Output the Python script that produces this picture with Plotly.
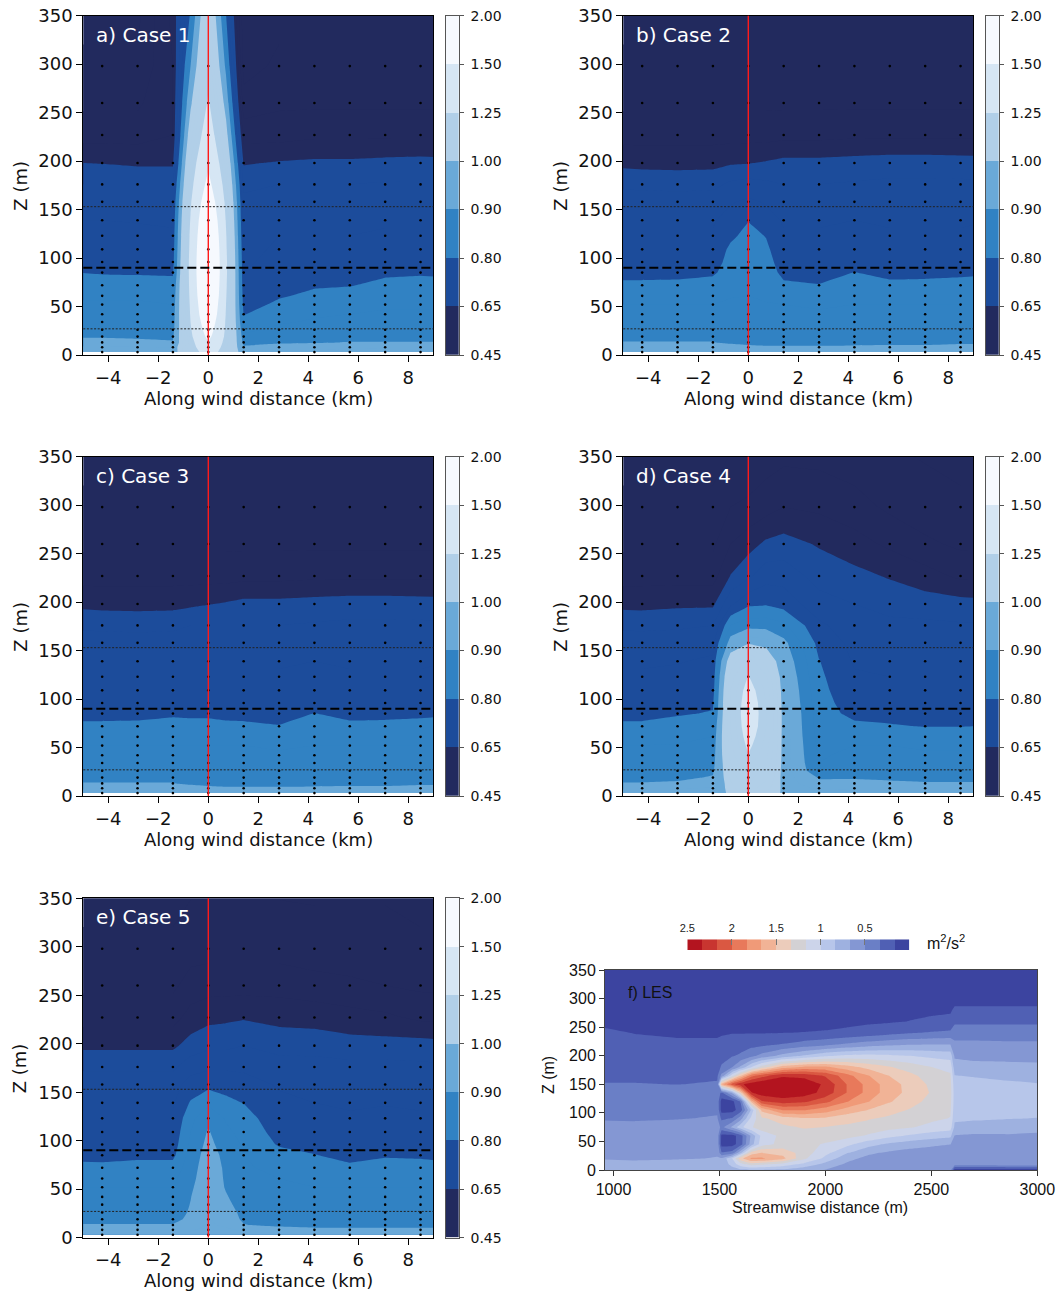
import numpy as np
import plotly.graph_objects as go

# ---------------- data: panels a-e (WRF wind-farm cases) ----------------
LEVELS = [0.45, 0.65, 0.80, 0.90, 1.00, 1.25, 1.50, 2.00]
LEVEL_LABELS = ["0.45", "0.65", "0.80", "0.90", "1.00", "1.25", "1.50", "2.00"]
BAND_COLORS = ["#222a5e", "#1c4c9b", "#3182c3", "#6aa9d8", "#b1cfe8", "#d6e6f4", "#f6f9fe"]

X_KM = [-5.66, -4.245, -2.83, -1.415, -0.71, 0.0, 0.71, 1.415, 2.83, 4.245, 5.66, 7.075, 8.49, 9.905]
Z_M = [3, 8, 13, 19, 26, 34, 42, 52, 61, 72, 85, 96, 109, 123, 139, 158, 176, 198, 227, 260, 298, 365]
GRID_X_KM = [-4.245, -2.83, -1.415, 0.0, 1.415, 2.83, 4.245, 5.66, 7.075, 8.49]
X_TICKS = [-4, -2, 0, 2, 4, 6, 8]
Z_TICKS = [0, 50, 100, 150, 200, 250, 300, 350]

TURBINE_X_KM = 0.0
HUB_HEIGHT_M = 90
ROTOR_DIAMETER_M = 126

# each list = one column (bottom -> top, at Z_M), columns at X_KM
CASE1_COLS = [
    [0.97, 0.955, 0.92, 0.895, 0.88, 0.87, 0.865, 0.855, 0.845, 0.83, 0.802, 0.78, 0.77, 0.76, 0.75, 0.73, 0.70, 0.652, 0.58, 0.54, 0.51, 0.48],
    [0.97, 0.955, 0.92, 0.895, 0.88, 0.87, 0.865, 0.855, 0.845, 0.83, 0.795, 0.78, 0.77, 0.76, 0.75, 0.73, 0.70, 0.648, 0.58, 0.54, 0.51, 0.48],
    [0.968, 0.952, 0.912, 0.893, 0.88, 0.87, 0.865, 0.855, 0.845, 0.828, 0.793, 0.778, 0.768, 0.758, 0.748, 0.73, 0.70, 0.64, 0.58, 0.54, 0.51, 0.48],
    [0.965, 0.95, 0.905, 0.89, 0.875, 0.865, 0.86, 0.85, 0.84, 0.825, 0.79, 0.775, 0.765, 0.755, 0.745, 0.73, 0.70, 0.64, 0.60, 0.60, 0.60, 0.62],
    [1.10, 1.15, 1.18, 1.21, 1.23, 1.25, 1.26, 1.27, 1.28, 1.29, 1.30, 1.30, 1.29, 1.28, 1.26, 1.23, 1.19, 1.15, 1.07, 0.98, 0.90, 0.79],
    [1.40, 1.46, 1.49, 1.56, 1.62, 1.68, 1.75, 1.80, 1.85, 1.88, 1.90, 1.90, 1.88, 1.84, 1.78, 1.68, 1.57, 1.46, 1.36, 1.27, 1.20, 1.12],
    [1.12, 1.16, 1.19, 1.21, 1.22, 1.23, 1.24, 1.25, 1.26, 1.27, 1.28, 1.28, 1.27, 1.26, 1.24, 1.21, 1.17, 1.12, 1.04, 0.96, 0.88, 0.78],
    [0.95, 0.91, 0.88, 0.86, 0.84, 0.815, 0.798, 0.78, 0.77, 0.76, 0.75, 0.745, 0.74, 0.73, 0.72, 0.71, 0.69, 0.645, 0.58, 0.52, 0.48, 0.46],
    [0.96, 0.93, 0.89, 0.87, 0.86, 0.845, 0.83, 0.81, 0.795, 0.78, 0.77, 0.76, 0.755, 0.75, 0.74, 0.725, 0.70, 0.655, 0.58, 0.54, 0.51, 0.48],
    [0.96, 0.935, 0.895, 0.875, 0.865, 0.855, 0.845, 0.83, 0.81, 0.795, 0.78, 0.77, 0.76, 0.75, 0.74, 0.725, 0.70, 0.66, 0.59, 0.54, 0.51, 0.48],
    [0.965, 0.94, 0.902, 0.88, 0.87, 0.86, 0.85, 0.835, 0.82, 0.797, 0.78, 0.77, 0.76, 0.75, 0.74, 0.725, 0.70, 0.66, 0.59, 0.54, 0.51, 0.48],
    [0.965, 0.945, 0.902, 0.882, 0.872, 0.862, 0.855, 0.845, 0.835, 0.815, 0.79, 0.775, 0.765, 0.755, 0.745, 0.73, 0.705, 0.665, 0.59, 0.54, 0.51, 0.48],
    [0.965, 0.945, 0.902, 0.882, 0.872, 0.862, 0.855, 0.845, 0.835, 0.815, 0.795, 0.775, 0.765, 0.755, 0.745, 0.73, 0.705, 0.668, 0.59, 0.54, 0.51, 0.48],
    [0.965, 0.945, 0.902, 0.882, 0.872, 0.862, 0.855, 0.845, 0.835, 0.815, 0.79, 0.775, 0.765, 0.755, 0.745, 0.73, 0.705, 0.665, 0.59, 0.54, 0.51, 0.48],
]

CASE2_COLS = [
    [0.965, 0.945, 0.903, 0.885, 0.875, 0.865, 0.86, 0.85, 0.84, 0.81, 0.785, 0.775, 0.765, 0.755, 0.745, 0.73, 0.69, 0.64, 0.58, 0.54, 0.51, 0.48],
    [0.965, 0.945, 0.903, 0.885, 0.875, 0.865, 0.86, 0.85, 0.84, 0.81, 0.785, 0.775, 0.765, 0.755, 0.745, 0.73, 0.685, 0.635, 0.58, 0.54, 0.51, 0.48],
    [0.965, 0.945, 0.903, 0.885, 0.875, 0.865, 0.86, 0.85, 0.84, 0.812, 0.785, 0.775, 0.765, 0.755, 0.745, 0.73, 0.68, 0.635, 0.58, 0.54, 0.51, 0.48],
    [0.965, 0.945, 0.903, 0.885, 0.875, 0.865, 0.86, 0.85, 0.84, 0.825, 0.79, 0.775, 0.765, 0.755, 0.745, 0.73, 0.685, 0.635, 0.58, 0.54, 0.51, 0.48],
    [0.96, 0.935, 0.885, 0.875, 0.87, 0.865, 0.86, 0.855, 0.848, 0.84, 0.83, 0.82, 0.81, 0.79, 0.77, 0.745, 0.71, 0.645, 0.58, 0.54, 0.51, 0.48],
    [0.955, 0.92, 0.875, 0.87, 0.865, 0.862, 0.86, 0.855, 0.85, 0.845, 0.84, 0.835, 0.825, 0.815, 0.798, 0.76, 0.72, 0.648, 0.58, 0.54, 0.51, 0.48],
    [0.955, 0.91, 0.875, 0.87, 0.865, 0.862, 0.86, 0.852, 0.845, 0.835, 0.83, 0.82, 0.81, 0.798, 0.77, 0.745, 0.71, 0.655, 0.58, 0.54, 0.51, 0.48],
    [0.955, 0.91, 0.875, 0.87, 0.865, 0.862, 0.858, 0.85, 0.84, 0.81, 0.785, 0.775, 0.765, 0.755, 0.745, 0.73, 0.70, 0.665, 0.585, 0.54, 0.51, 0.48],
    [0.955, 0.91, 0.875, 0.87, 0.865, 0.86, 0.855, 0.845, 0.83, 0.802, 0.78, 0.772, 0.765, 0.755, 0.745, 0.73, 0.70, 0.665, 0.585, 0.54, 0.51, 0.48],
    [0.955, 0.915, 0.876, 0.87, 0.865, 0.862, 0.858, 0.85, 0.84, 0.83, 0.801, 0.785, 0.77, 0.76, 0.75, 0.735, 0.705, 0.67, 0.59, 0.54, 0.51, 0.48],
    [0.955, 0.92, 0.875, 0.87, 0.865, 0.862, 0.858, 0.85, 0.84, 0.812, 0.785, 0.775, 0.765, 0.755, 0.745, 0.735, 0.71, 0.675, 0.59, 0.54, 0.51, 0.48],
    [0.955, 0.92, 0.875, 0.87, 0.865, 0.862, 0.858, 0.85, 0.84, 0.815, 0.785, 0.775, 0.765, 0.755, 0.745, 0.735, 0.71, 0.675, 0.59, 0.54, 0.51, 0.48],
    [0.96, 0.93, 0.885, 0.875, 0.87, 0.865, 0.86, 0.85, 0.84, 0.82, 0.788, 0.775, 0.765, 0.755, 0.745, 0.735, 0.71, 0.672, 0.59, 0.54, 0.51, 0.48],
    [0.96, 0.93, 0.885, 0.875, 0.87, 0.865, 0.86, 0.85, 0.84, 0.83, 0.795, 0.78, 0.77, 0.76, 0.75, 0.735, 0.705, 0.67, 0.59, 0.54, 0.51, 0.48],
]

CASE3_COLS = [
    [0.965, 0.945, 0.903, 0.885, 0.875, 0.865, 0.86, 0.85, 0.84, 0.81, 0.785, 0.775, 0.765, 0.755, 0.745, 0.73, 0.69, 0.64, 0.58, 0.54, 0.51, 0.48],
    [0.965, 0.945, 0.903, 0.885, 0.875, 0.865, 0.86, 0.85, 0.84, 0.81, 0.785, 0.775, 0.765, 0.755, 0.745, 0.73, 0.685, 0.635, 0.58, 0.54, 0.51, 0.48],
    [0.965, 0.945, 0.903, 0.885, 0.875, 0.865, 0.86, 0.85, 0.84, 0.812, 0.785, 0.775, 0.765, 0.755, 0.745, 0.73, 0.68, 0.635, 0.58, 0.54, 0.51, 0.48],
    [0.965, 0.945, 0.903, 0.885, 0.875, 0.865, 0.86, 0.85, 0.84, 0.825, 0.79, 0.775, 0.765, 0.755, 0.745, 0.73, 0.685, 0.635, 0.58, 0.54, 0.51, 0.48],
    [0.96, 0.935, 0.885, 0.875, 0.87, 0.865, 0.86, 0.85, 0.84, 0.82, 0.788, 0.775, 0.765, 0.755, 0.745, 0.73, 0.70, 0.64, 0.58, 0.54, 0.51, 0.48],
    [0.955, 0.92, 0.875, 0.87, 0.865, 0.862, 0.858, 0.85, 0.84, 0.82, 0.788, 0.775, 0.765, 0.755, 0.745, 0.73, 0.70, 0.648, 0.58, 0.54, 0.51, 0.48],
    [0.955, 0.91, 0.875, 0.87, 0.865, 0.862, 0.858, 0.85, 0.84, 0.812, 0.785, 0.775, 0.765, 0.755, 0.745, 0.73, 0.70, 0.655, 0.58, 0.54, 0.51, 0.48],
    [0.955, 0.91, 0.875, 0.87, 0.865, 0.862, 0.858, 0.85, 0.84, 0.81, 0.785, 0.775, 0.765, 0.755, 0.745, 0.73, 0.70, 0.665, 0.585, 0.54, 0.51, 0.48],
    [0.955, 0.91, 0.875, 0.87, 0.865, 0.86, 0.855, 0.845, 0.83, 0.802, 0.78, 0.772, 0.765, 0.755, 0.745, 0.73, 0.70, 0.665, 0.585, 0.54, 0.51, 0.48],
    [0.955, 0.915, 0.876, 0.87, 0.865, 0.862, 0.858, 0.85, 0.84, 0.83, 0.801, 0.785, 0.77, 0.76, 0.75, 0.735, 0.705, 0.67, 0.59, 0.54, 0.51, 0.48],
    [0.955, 0.92, 0.875, 0.87, 0.865, 0.862, 0.858, 0.85, 0.84, 0.812, 0.785, 0.775, 0.765, 0.755, 0.745, 0.735, 0.71, 0.675, 0.59, 0.54, 0.51, 0.48],
    [0.955, 0.92, 0.875, 0.87, 0.865, 0.862, 0.858, 0.85, 0.84, 0.815, 0.785, 0.775, 0.765, 0.755, 0.745, 0.735, 0.71, 0.675, 0.59, 0.54, 0.51, 0.48],
    [0.96, 0.93, 0.885, 0.875, 0.87, 0.865, 0.86, 0.85, 0.84, 0.82, 0.788, 0.775, 0.765, 0.755, 0.745, 0.735, 0.71, 0.672, 0.59, 0.54, 0.51, 0.48],
    [0.96, 0.93, 0.885, 0.875, 0.87, 0.865, 0.86, 0.85, 0.84, 0.83, 0.795, 0.78, 0.77, 0.76, 0.75, 0.735, 0.705, 0.67, 0.59, 0.54, 0.51, 0.48],
]

CASE4_COLS = [
    [0.965, 0.945, 0.903, 0.885, 0.875, 0.865, 0.86, 0.85, 0.84, 0.81, 0.785, 0.775, 0.765, 0.755, 0.745, 0.73, 0.69, 0.637, 0.58, 0.54, 0.51, 0.48],
    [0.965, 0.945, 0.903, 0.885, 0.875, 0.865, 0.86, 0.85, 0.84, 0.81, 0.785, 0.775, 0.765, 0.755, 0.745, 0.73, 0.685, 0.635, 0.58, 0.54, 0.51, 0.48],
    [0.965, 0.945, 0.908, 0.888, 0.877, 0.867, 0.862, 0.852, 0.842, 0.828, 0.793, 0.778, 0.768, 0.758, 0.748, 0.733, 0.69, 0.64, 0.58, 0.54, 0.51, 0.48],
    [0.97, 0.955, 0.92, 0.905, 0.89, 0.875, 0.868, 0.86, 0.85, 0.835, 0.805, 0.79, 0.775, 0.765, 0.755, 0.74, 0.70, 0.64, 0.58, 0.54, 0.51, 0.48],
    [1.01, 1.02, 1.04, 1.06, 1.08, 1.10, 1.12, 1.135, 1.145, 1.15, 1.155, 1.155, 1.15, 1.12, 1.06, 0.93, 0.85, 0.74, 0.652, 0.60, 0.55, 0.49],
    [1.08, 1.12, 1.15, 1.17, 1.19, 1.21, 1.245, 1.27, 1.29, 1.31, 1.32, 1.31, 1.29, 1.255, 1.18, 0.99, 0.88, 0.79, 0.69, 0.63, 0.56, 0.50],
    [1.04, 1.07, 1.09, 1.11, 1.13, 1.15, 1.17, 1.18, 1.19, 1.20, 1.20, 1.20, 1.19, 1.16, 1.08, 0.97, 0.88, 0.795, 0.73, 0.66, 0.58, 0.51],
    [0.99, 0.985, 0.98, 0.975, 0.975, 0.975, 0.975, 0.975, 0.975, 0.975, 0.975, 0.97, 0.965, 0.955, 0.94, 0.915, 0.86, 0.78, 0.73, 0.67, 0.60, 0.52],
    [0.965, 0.94, 0.91, 0.896, 0.86, 0.85, 0.845, 0.84, 0.835, 0.83, 0.825, 0.82, 0.815, 0.81, 0.802, 0.785, 0.76, 0.72, 0.68, 0.645, 0.59, 0.52],
    [0.965, 0.945, 0.915, 0.895, 0.875, 0.865, 0.86, 0.85, 0.84, 0.812, 0.785, 0.775, 0.765, 0.755, 0.745, 0.735, 0.72, 0.70, 0.665, 0.62, 0.57, 0.51],
    [0.965, 0.945, 0.91, 0.89, 0.875, 0.865, 0.86, 0.85, 0.84, 0.805, 0.78, 0.77, 0.76, 0.75, 0.74, 0.73, 0.71, 0.685, 0.645, 0.59, 0.54, 0.50],
    [0.965, 0.945, 0.905, 0.885, 0.875, 0.865, 0.855, 0.845, 0.83, 0.798, 0.78, 0.77, 0.76, 0.75, 0.74, 0.73, 0.71, 0.675, 0.62, 0.56, 0.52, 0.49],
    [0.965, 0.945, 0.905, 0.885, 0.875, 0.865, 0.855, 0.845, 0.83, 0.798, 0.78, 0.77, 0.76, 0.75, 0.74, 0.73, 0.705, 0.67, 0.59, 0.54, 0.51, 0.48],
    [0.965, 0.945, 0.905, 0.885, 0.875, 0.865, 0.855, 0.845, 0.835, 0.802, 0.78, 0.77, 0.76, 0.75, 0.74, 0.73, 0.705, 0.665, 0.585, 0.54, 0.51, 0.48],
]

CASE5_COLS = [
    [0.965, 0.945, 0.903, 0.885, 0.875, 0.865, 0.86, 0.85, 0.84, 0.815, 0.785, 0.775, 0.765, 0.755, 0.745, 0.73, 0.69, 0.64, 0.58, 0.54, 0.51, 0.48],
    [0.965, 0.945, 0.903, 0.885, 0.875, 0.865, 0.86, 0.85, 0.84, 0.812, 0.785, 0.775, 0.765, 0.755, 0.745, 0.73, 0.69, 0.64, 0.58, 0.54, 0.51, 0.48],
    [0.965, 0.945, 0.903, 0.885, 0.875, 0.865, 0.86, 0.85, 0.84, 0.82, 0.788, 0.775, 0.765, 0.755, 0.745, 0.73, 0.69, 0.64, 0.58, 0.54, 0.51, 0.48],
    [0.965, 0.945, 0.903, 0.885, 0.875, 0.865, 0.86, 0.85, 0.84, 0.82, 0.788, 0.775, 0.765, 0.755, 0.745, 0.73, 0.69, 0.64, 0.58, 0.54, 0.51, 0.48],
    [0.96, 0.945, 0.925, 0.912, 0.906, 0.902, 0.898, 0.89, 0.882, 0.875, 0.868, 0.86, 0.85, 0.835, 0.805, 0.77, 0.73, 0.67, 0.62, 0.57, 0.53, 0.49],
    [0.97, 0.96, 0.955, 0.952, 0.95, 0.95, 0.95, 0.945, 0.94, 0.935, 0.925, 0.915, 0.905, 0.89, 0.84, 0.785, 0.74, 0.69, 0.635, 0.58, 0.53, 0.49],
    [0.965, 0.955, 0.945, 0.935, 0.925, 0.915, 0.905, 0.895, 0.892, 0.89, 0.885, 0.875, 0.86, 0.845, 0.81, 0.785, 0.74, 0.69, 0.64, 0.58, 0.53, 0.49],
    [0.965, 0.945, 0.903, 0.89, 0.885, 0.875, 0.87, 0.865, 0.86, 0.855, 0.85, 0.845, 0.835, 0.82, 0.799, 0.77, 0.74, 0.70, 0.645, 0.58, 0.53, 0.49],
    [0.96, 0.93, 0.885, 0.875, 0.87, 0.865, 0.86, 0.855, 0.85, 0.84, 0.82, 0.795, 0.78, 0.77, 0.76, 0.745, 0.725, 0.68, 0.635, 0.58, 0.53, 0.49],
    [0.955, 0.92, 0.875, 0.87, 0.865, 0.86, 0.855, 0.85, 0.84, 0.825, 0.802, 0.785, 0.77, 0.76, 0.75, 0.74, 0.72, 0.68, 0.63, 0.57, 0.52, 0.49],
    [0.955, 0.92, 0.875, 0.87, 0.865, 0.86, 0.855, 0.85, 0.84, 0.81, 0.785, 0.775, 0.765, 0.755, 0.745, 0.735, 0.715, 0.67, 0.62, 0.56, 0.52, 0.49],
    [0.955, 0.92, 0.875, 0.87, 0.865, 0.86, 0.855, 0.85, 0.84, 0.828, 0.793, 0.778, 0.768, 0.758, 0.748, 0.735, 0.715, 0.67, 0.61, 0.55, 0.52, 0.49],
    [0.955, 0.92, 0.875, 0.87, 0.865, 0.86, 0.855, 0.85, 0.84, 0.825, 0.79, 0.775, 0.765, 0.755, 0.745, 0.735, 0.71, 0.672, 0.59, 0.54, 0.51, 0.48],
    [0.955, 0.92, 0.875, 0.87, 0.865, 0.86, 0.855, 0.85, 0.84, 0.81, 0.785, 0.775, 0.765, 0.755, 0.745, 0.735, 0.705, 0.665, 0.585, 0.54, 0.51, 0.48],
]

CASE_TITLES = ["a) Case 1", "b) Case 2", "c) Case 3", "d) Case 4", "e) Case 5"]
CASE_DATA = [CASE1_COLS, CASE2_COLS, CASE3_COLS, CASE4_COLS, CASE5_COLS]

# ---------------- data: panel f (LES TKE, m2/s2) ----------------
F_X = [960, 1100, 1300, 1490, 1510, 1560, 1600, 1650, 1700, 1800, 1900, 2000, 2100, 2200, 2300, 2400, 2500, 2590, 2610, 2700, 2850, 3000]
F_Z = [0, 10, 20, 30, 45, 60, 75, 90, 105, 120, 135, 150, 165, 180, 200, 220, 240, 260, 280, 300, 350]
F_COLS = [
    [0.72, 0.70, 0.66, 0.62, 0.60, 0.59, 0.57, 0.48, 0.45, 0.44, 0.42, 0.34, 0.30, 0.28, 0.27, 0.25, 0.20, 0.12, 0.10, 0.09, 0.08],
    [0.72, 0.70, 0.65, 0.61, 0.60, 0.60, 0.57, 0.47, 0.45, 0.43, 0.41, 0.34, 0.30, 0.28, 0.26, 0.23, 0.16, 0.12, 0.10, 0.09, 0.08],
    [0.72, 0.70, 0.66, 0.63, 0.62, 0.61, 0.58, 0.49, 0.46, 0.44, 0.42, 0.33, 0.30, 0.28, 0.26, 0.20, 0.14, 0.11, 0.10, 0.09, 0.08],
    [0.72, 0.70, 0.67, 0.66, 0.64, 0.62, 0.60, 0.52, 0.47, 0.45, 0.43, 0.35, 0.31, 0.28, 0.26, 0.20, 0.14, 0.11, 0.10, 0.09, 0.08],
    [0.70, 0.70, 0.70, 0.35, 0.10, 0.12, 0.45, 0.30, 0.10, 0.10, 0.30, 1.60, 0.55, 0.35, 0.28, 0.21, 0.15, 0.11, 0.10, 0.09, 0.08],
    [0.75, 0.90, 1.00, 0.40, 0.10, 0.10, 0.70, 0.35, 0.10, 0.12, 0.70, 2.10, 1.10, 0.50, 0.32, 0.24, 0.16, 0.11, 0.10, 0.09, 0.08],
    [0.80, 1.10, 1.45, 0.80, 0.25, 0.25, 0.95, 0.60, 0.25, 0.35, 1.40, 2.30, 1.50, 0.70, 0.36, 0.25, 0.16, 0.12, 0.10, 0.09, 0.08],
    [0.82, 1.25, 1.70, 1.40, 0.75, 0.70, 1.15, 1.05, 0.85, 1.55, 2.32, 2.42, 1.95, 1.00, 0.45, 0.28, 0.16, 0.12, 0.10, 0.09, 0.08],
    [0.82, 1.20, 1.70, 1.50, 1.10, 1.05, 1.25, 1.30, 1.55, 2.15, 2.42, 2.48, 2.10, 1.25, 0.55, 0.29, 0.16, 0.12, 0.10, 0.09, 0.08],
    [0.80, 1.10, 1.55, 1.45, 1.22, 1.22, 1.30, 1.42, 1.85, 2.25, 2.46, 2.52, 2.30, 1.60, 0.72, 0.34, 0.165, 0.12, 0.10, 0.09, 0.08],
    [0.72, 0.95, 1.20, 1.25, 1.22, 1.25, 1.35, 1.48, 1.85, 2.20, 2.42, 2.46, 2.28, 1.70, 0.85, 0.40, 0.17, 0.12, 0.10, 0.09, 0.08],
    [0.66, 0.78, 0.95, 1.05, 1.15, 1.25, 1.33, 1.47, 1.75, 2.05, 2.27, 2.30, 2.15, 1.70, 0.97, 0.45, 0.18, 0.12, 0.10, 0.09, 0.08],
    [0.62, 0.64, 0.72, 0.85, 1.05, 1.22, 1.30, 1.40, 1.60, 1.85, 2.00, 2.00, 1.90, 1.58, 1.03, 0.52, 0.20, 0.13, 0.10, 0.09, 0.08],
    [0.60, 0.60, 0.62, 0.70, 0.90, 1.15, 1.26, 1.35, 1.50, 1.68, 1.78, 1.78, 1.68, 1.45, 1.05, 0.58, 0.24, 0.14, 0.11, 0.09, 0.08],
    [0.58, 0.57, 0.58, 0.64, 0.80, 1.05, 1.22, 1.30, 1.40, 1.52, 1.58, 1.58, 1.50, 1.35, 1.03, 0.62, 0.28, 0.15, 0.11, 0.09, 0.08],
    [0.58, 0.56, 0.57, 0.60, 0.74, 0.98, 1.18, 1.25, 1.32, 1.40, 1.45, 1.44, 1.38, 1.26, 1.00, 0.65, 0.32, 0.17, 0.13, 0.10, 0.08],
    [0.58, 0.56, 0.56, 0.58, 0.70, 0.92, 1.12, 1.20, 1.24, 1.28, 1.32, 1.30, 1.25, 1.17, 0.96, 0.66, 0.35, 0.19, 0.14, 0.10, 0.08],
    [0.58, 0.56, 0.56, 0.57, 0.67, 0.88, 1.08, 1.16, 1.19, 1.22, 1.24, 1.22, 1.19, 1.12, 0.93, 0.66, 0.37, 0.20, 0.15, 0.11, 0.08],
    [0.08, 0.58, 0.60, 0.60, 0.62, 0.66, 0.80, 0.86, 0.90, 0.92, 0.92, 0.90, 0.84, 0.74, 0.64, 0.54, 0.42, 0.30, 0.19, 0.12, 0.08],
    [0.08, 0.58, 0.60, 0.60, 0.62, 0.64, 0.78, 0.85, 0.89, 0.94, 0.95, 0.90, 0.82, 0.72, 0.62, 0.54, 0.42, 0.30, 0.19, 0.12, 0.08],
    [0.08, 0.60, 0.62, 0.62, 0.63, 0.65, 0.74, 0.84, 0.89, 0.91, 0.90, 0.86, 0.80, 0.71, 0.62, 0.53, 0.42, 0.30, 0.19, 0.12, 0.08],
    [0.08, 0.60, 0.62, 0.62, 0.62, 0.64, 0.72, 0.83, 0.87, 0.89, 0.88, 0.84, 0.79, 0.70, 0.62, 0.53, 0.42, 0.30, 0.19, 0.12, 0.08],
]
F_STEP = 1.0 / 6.0
F_NBANDS = 15
F_COLORS = ["#3c44a0", "#5060b4", "#6a7fc6", "#8497d3", "#9eb1e0", "#b7c6ea", "#ccd4ea",
            "#d3d1d4", "#ecccbb", "#f1b396", "#f09a78", "#e8795b", "#da5842", "#c83530", "#b3141f"]
F_CB_TICKS = [2.5, 2.0, 1.5, 1.0, 0.5]
F_CB_LABELS = ["2.5", "2", "1.5", "1", "0.5"]
F_X_TICKS = [1000, 1500, 2000, 2500, 3000]
F_Z_TICKS = [0, 50, 100, 150, 200, 250, 300, 350]

# ---------------- layout geometry ----------------
W, H = 1057, 1294
PW, PH = 350.0, 339.3
PANEL_POS = [(83.3, 15.7), (623.3, 15.7), (83.3, 456.7), (623.3, 456.7), (83.3, 898.3)]
CB_OFFSET, CB_W = 362.7, 12.7
F_BOX = (605.0, 970.0, 1037.3, 1170.0)     # left, top, right, bottom (px)
F_CB_BOX = (687.3, 939.3, 909.3, 950.0)

DJ = "DejaVu Sans"
LS = "Liberation Sans"
TXT = "#111111"


def axn(kind, n):
    return f"{kind}axis" + ("" if n == 1 else str(n))


def rf(kind, n):
    return kind + ("" if n == 1 else str(n))


def px2paper(xp, yp):
    return xp / W, 1 - yp / H


fig = go.Figure()
layout = dict(width=W, height=H, margin=dict(l=0, r=0, t=0, b=0, autoexpand=False),
              paper_bgcolor="white", plot_bgcolor="white", showlegend=False)
annotations = []
shapes = []

# discrete colorscale for contour fill in value space (contour levels every 0.05)
C_START, C_END, C_SIZE = 0.50, 1.95, 0.05
lo, hi = C_START - C_SIZE / 2, C_END + C_SIZE / 2
cs_ae = []
for k, col in enumerate(BAND_COLORS):
    a = 0.0 if k == 0 else (LEVELS[k] - C_SIZE / 4 - lo) / (hi - lo)
    b = 1.0 if k == len(BAND_COLORS) - 1 else (LEVELS[k + 1] - C_SIZE / 4 - lo) / (hi - lo)
    cs_ae += [[a, col], [b, col]]

tickfont = dict(family=DJ, size=18, color=TXT)
dot_x, dot_z = np.meshgrid(GRID_X_KM, Z_M)
rotor_lo = HUB_HEIGHT_M - ROTOR_DIAMETER_M / 2
rotor_hi = HUB_HEIGHT_M + ROTOR_DIAMETER_M / 2

for i, cols in enumerate(CASE_DATA):
    n = i + 1
    m = i + 7
    left, top = PANEL_POS[i]
    xd = [left / W, (left + PW) / W]
    yd = [1 - (top + PH) / H, 1 - top / H]
    layout[axn("x", n)] = dict(domain=xd, anchor=rf("y", n), range=[-5, 9], tickvals=X_TICKS,
                               ticks="outside", ticklen=6, tickwidth=1, tickcolor="black",
                               showline=True, linecolor="black", linewidth=1, mirror=True,
                               showgrid=False, zeroline=False, tickfont=tickfont, automargin=False)
    layout[axn("y", n)] = dict(domain=yd, anchor=rf("x", n), range=[0, 350], tickvals=Z_TICKS,
                               ticks="outside", ticklen=6, tickwidth=1, tickcolor="black",
                               showline=True, linecolor="black", linewidth=1, mirror=True,
                               showgrid=False, zeroline=False, tickfont=tickfont, automargin=False)
    z = np.array(cols).T
    fig.add_trace(go.Contour(x=X_KM, y=Z_M, z=z, xaxis=rf("x", n), yaxis=rf("y", n),
                             contours=dict(start=C_START, end=C_END, size=C_SIZE,
                                           coloring="fill", showlines=False),
                             colorscale=cs_ae, showscale=False,
                             line=dict(width=0, smoothing=0), hoverinfo="skip"))
    fig.add_trace(go.Scatter(x=dot_x.ravel(), y=dot_z.ravel(), mode="markers",
                             xaxis=rf("x", n), yaxis=rf("y", n),
                             marker=dict(size=2.6, color="black"), hoverinfo="skip"))
    # reference lines: turbine position, hub height, rotor extent
    shapes.append(dict(type="line", xref=rf("x", n), yref=rf("y", n) + " domain",
                       x0=TURBINE_X_KM, x1=TURBINE_X_KM, y0=0, y1=1,
                       line=dict(color="#ff1a1a", width=1.4), layer="above"))
    shapes.append(dict(type="line", xref=rf("x", n) + " domain", yref=rf("y", n),
                       x0=0, x1=1, y0=HUB_HEIGHT_M, y1=HUB_HEIGHT_M,
                       line=dict(color="black", width=2, dash="9px,4px"), layer="above"))
    for hz in (rotor_lo, rotor_hi):
        shapes.append(dict(type="line", xref=rf("x", n) + " domain", yref=rf("y", n),
                           x0=0, x1=1, y0=hz, y1=hz,
                           line=dict(color="#222222", width=1, dash="2px,1.6px"), layer="above"))

    # colorbar as a small heatmap axis
    cl = left + CB_OFFSET
    layout[axn("x", m)] = dict(domain=[cl / W, (cl + CB_W) / W], anchor=rf("y", m), range=[0, 1],
                               showticklabels=False, ticks="", showline=True, mirror=True,
                               linecolor="#555555", linewidth=1, showgrid=False, zeroline=False,
                               automargin=False)
    layout[axn("y", m)] = dict(domain=yd, anchor=rf("x", m), side="right", range=[0, len(BAND_COLORS)],
                               tickvals=list(range(len(LEVELS))), ticktext=LEVEL_LABELS,
                               ticks="outside", ticklen=4, tickcolor="#555555",
                               showline=True, mirror=True, linecolor="#555555", linewidth=1,
                               showgrid=False, zeroline=False, automargin=False,
                               ticklabelstandoff=4,
                               tickfont=dict(family=DJ, size=14, color=TXT))
    nb = len(BAND_COLORS)
    fig.add_trace(go.Heatmap(z=[[k] for k in range(nb)], x=[0, 1], y=list(range(nb + 1)),
                             xaxis=rf("x", m), yaxis=rf("y", m),
                             colorscale=[[k / (nb - 1), c] for k, c in enumerate(BAND_COLORS)],
                             zmin=0, zmax=nb - 1, showscale=False, hoverinfo="skip"))

    # texts
    px, py = px2paper(left + 11, top + 19)
    annotations.append(dict(x=px, y=py, xref="paper", yref="paper", text=CASE_TITLES[i],
                            showarrow=False, xanchor="left", yanchor="middle",
                            font=dict(family=DJ, size=20, color="white")))
    px, py = px2paper(left + PW / 2, top + PH + 43)
    annotations.append(dict(x=px, y=py, xref="paper", yref="paper", text="Along wind distance (km)",
                            showarrow=False, xanchor="center", yanchor="middle",
                            font=dict(family=DJ, size=18, color=TXT)))
    px, py = px2paper(left - 63, top + PH / 2)
    annotations.append(dict(x=px, y=py, xref="paper", yref="paper", text="Z (m)", textangle=-90,
                            showarrow=False, xanchor="center", yanchor="middle",
                            font=dict(family=DJ, size=18, color=TXT)))

# ---------------- panel f ----------------
fl, ft, fr, fb = F_BOX
layout["xaxis6"] = dict(domain=[fl / W, fr / W], anchor="y6", range=[960, 3000], tickvals=F_X_TICKS,
                        ticks="outside", ticklen=5, tickcolor="#333333", showline=True,
                        linecolor="#444444", linewidth=1, mirror=True, showgrid=False, zeroline=False,
                        automargin=False, tickfont=dict(family=LS, size=16, color=TXT))
layout["yaxis6"] = dict(domain=[1 - fb / H, 1 - ft / H], anchor="x6", range=[0, 350], tickvals=F_Z_TICKS,
                        ticks="outside", ticklen=5, tickcolor="#333333", showline=True,
                        linecolor="#444444", linewidth=1, mirror=True, showgrid=False, zeroline=False,
                        automargin=False, tickfont=dict(family=LS, size=16, color=TXT))
fig.add_trace(go.Contour(x=F_X, y=F_Z, z=np.array(F_COLS).T, xaxis="x6", yaxis="y6",
                         contours=dict(start=F_STEP, end=(F_NBANDS - 1) * F_STEP, size=F_STEP,
                                       coloring="fill", showlines=False),
                         colorscale=[[k / (F_NBANDS - 1), c] for k, c in enumerate(F_COLORS)],
                         showscale=False, line=dict(width=0, smoothing=0), hoverinfo="skip"))

cbl, cbt, cbr, cbb = F_CB_BOX
layout["xaxis12"] = dict(domain=[cbl / W, cbr / W], anchor="y12", range=[F_NBANDS * F_STEP, 0],
                         side="top", tickvals=F_CB_TICKS, ticktext=F_CB_LABELS, ticks="inside",
                         ticklen=6, tickcolor="#777777", showline=False, showgrid=False, zeroline=False,
                         automargin=False, ticklabelstandoff=4,
                         tickfont=dict(family=LS, size=11, color="#222222"))
layout["yaxis12"] = dict(domain=[1 - cbb / H, 1 - cbt / H], anchor="x12", range=[0, 1],
                         showticklabels=False, ticks="", showline=False, showgrid=False,
                         zeroline=False, automargin=False)
fig.add_trace(go.Heatmap(z=[list(range(F_NBANDS))], x=[k * F_STEP for k in range(F_NBANDS + 1)], y=[0, 1],
                         xaxis="x12", yaxis="y12",
                         colorscale=[[k / (F_NBANDS - 1), c] for k, c in enumerate(F_COLORS)],
                         zmin=0, zmax=F_NBANDS - 1, showscale=False, hoverinfo="skip"))

for (xp, yp, txt, anchor, angle, size) in [
    (625.7, 992.7, "f) LES", "left", 0, 16),
    ((fl + fr) / 2 - 1, 1207, "Streamwise distance (m)", "center", 0, 16),
    (548, 1075, "Z (m)", "center", -90, 16),
    (925, 942, "m<sup>2</sup>/s<sup>2</sup>", "left", 0, 16),
]:
    px, py = px2paper(xp, yp)
    annotations.append(dict(x=px, y=py, xref="paper", yref="paper", text=txt, textangle=angle,
                            showarrow=False, xanchor=anchor, yanchor="middle",
                            font=dict(family=LS, size=size, color=TXT)))

layout["annotations"] = annotations
layout["shapes"] = shapes
fig.update_layout(**layout)
fig.write_html("out.html", config={"displayModeBar": False, "staticPlot": True},
               post_script="document.body.style.margin='0';document.body.style.padding='0';"
                           "document.documentElement.style.overflow='hidden';")
